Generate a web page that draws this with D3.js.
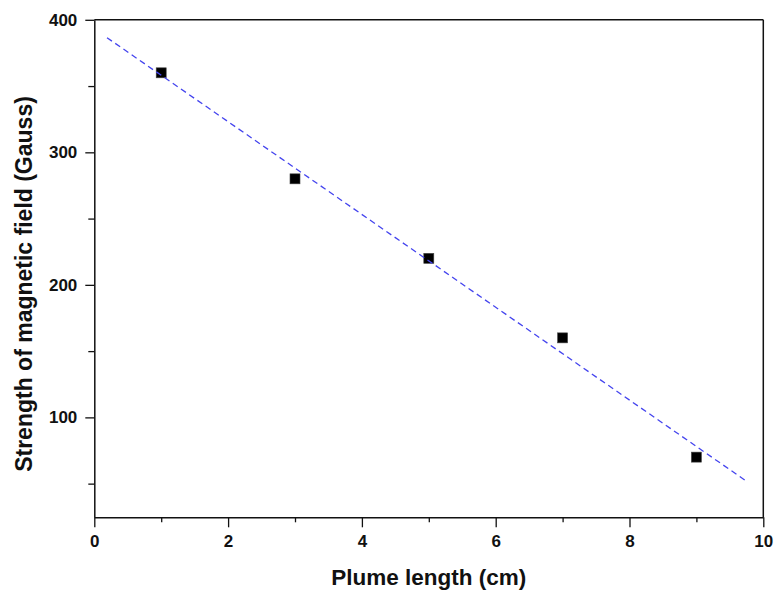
<!DOCTYPE html>
<html>
<head>
<meta charset="utf-8">
<script src="https://cdn.jsdelivr.net/npm/d3@7"></script>
<style>
  html, body { margin: 0; padding: 0; background: #fff; }
  svg { display: block; }
  text { font-family: "Liberation Sans", Arial, sans-serif; font-weight: bold; fill: #111; }
</style>
</head>
<body>
<svg id="chart" width="774" height="592"></svg>
<script>
// Data
const plumeLength = [1, 3, 5, 7, 9];
const fieldStrength = [360, 280, 220, 160, 70];
const fitX = [0.19, 9.73];
const fitY = [386.5, 52.5];
const xTicks = [0, 2, 4, 6, 8, 10];
const xMinorTicks = [1, 3, 5, 7, 9];
const yTicks = [100, 200, 300, 400];
const yMinorTicks = [50, 150, 250, 350];
const xLabel = "Plume length (cm)";
const yLabel = "Strength of magnetic field (Gauss)";

const svg = d3.select("#chart");
const L = 94.3, R = 763.3, T = 19.8, B = 517.3;

const x = d3.scaleLinear().domain([0, 10]).range([L, R]);
const y = d3.scaleLinear().domain([24.6, 400]).range([B, T]);

// Markers
svg.append("g").selectAll("rect")
  .data(plumeLength.map((d, i) => [d, fieldStrength[i]]))
  .join("rect")
  .attr("x", d => x(d[0]) - 5)
  .attr("y", d => y(d[1]) - 5)
  .attr("width", 10).attr("height", 10)
  .attr("fill", "#000")
  .attr("stroke", "#444").attr("stroke-width", 0.6);

// Fit line
svg.append("path")
  .datum(fitX.map((d, i) => [d, fitY[i]]))
  .attr("d", d3.line().x(d => x(d[0])).y(d => y(d[1])))
  .attr("fill", "none")
  .attr("stroke", "#4444ee")
  .attr("stroke-width", 1.3)
  .attr("stroke-dasharray", "6,4");

// Frame (top and right)
svg.append("line").attr("x1", L).attr("x2", R).attr("y1", T).attr("y2", T)
  .attr("stroke", "#111").attr("stroke-width", 1.5);
svg.append("line").attr("x1", R).attr("x2", R).attr("y1", T).attr("y2", B)
  .attr("stroke", "#111").attr("stroke-width", 1.5);

// X axis
svg.append("g").attr("transform", `translate(0,${B})`)
  .call(d3.axisBottom(x).tickValues(xTicks).tickFormat(d3.format("d")).tickSize(10).tickSizeOuter(0).tickPadding(8));
svg.append("g").attr("transform", `translate(0,${B})`)
  .call(d3.axisBottom(x).tickValues(xMinorTicks).tickFormat("").tickSize(5).tickSizeOuter(0))
  .select(".domain").remove();

// Y axis
svg.append("g").attr("transform", `translate(${L},0)`)
  .call(d3.axisLeft(y).tickValues(yTicks).tickFormat(d3.format("d")).tickSize(9).tickSizeOuter(0).tickPadding(8));
svg.append("g").attr("transform", `translate(${L},0)`)
  .call(d3.axisLeft(y).tickValues(yMinorTicks).tickFormat("").tickSize(6).tickSizeOuter(0))
  .select(".domain").remove();

svg.selectAll(".domain").attr("stroke", "#111").attr("stroke-width", 1.5);
svg.selectAll(".tick line").attr("stroke", "#111").attr("stroke-width", 1.3);
svg.selectAll(".tick text").style("font-size", "17px").style("font-family", '"Liberation Sans", Arial, sans-serif').style("font-weight", "bold").attr("fill", "#111");

// Axis titles
svg.append("text")
  .attr("x", (L + R) / 2).attr("y", 585)
  .attr("text-anchor", "middle")
  .style("font-size", "22.5px")
  .text(xLabel);

svg.append("text")
  .attr("transform", `translate(32,284) rotate(-90)`)
  .attr("text-anchor", "middle")
  .style("font-size", "23px")
  .text(yLabel);
</script>
</body>
</html>
